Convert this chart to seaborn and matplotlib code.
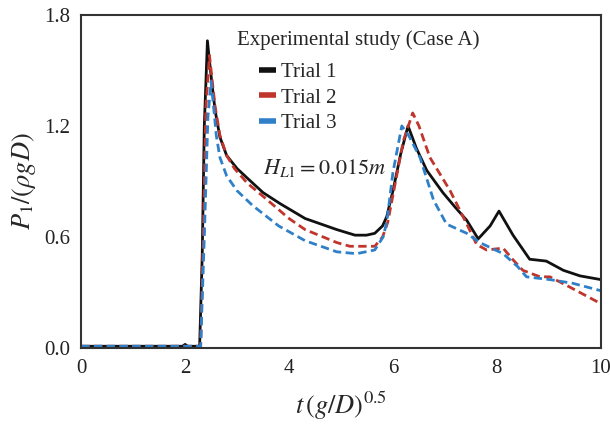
import pandas as pd
import seaborn as sns
import matplotlib.pyplot as plt
from matplotlib.lines import Line2D

# Trial 1 (solid black)
t1_x = [0, 1.0, 1.95, 2.0, 2.05, 2.28, 2.33, 2.37, 2.43, 2.47, 2.52, 2.58, 2.67, 2.8, 3.0,
        3.19, 3.5, 3.83, 4.31, 4.92, 5.27, 5.49, 5.65, 5.8, 5.88, 6.0, 6.15, 6.29, 6.45,
        6.65, 6.96, 7.2, 7.42, 7.64, 7.87, 8.04, 8.31, 8.63, 8.95, 9.28, 9.6, 10.0]
t1_y = [0.01, 0.01, 0.01, 0.02, 0.01, 0.01, 0.5, 1.2, 1.66, 1.55, 1.42, 1.28, 1.14, 1.04, 0.97,
        0.92, 0.84, 0.78, 0.7, 0.64, 0.61, 0.61, 0.62, 0.66, 0.71, 0.85, 1.05, 1.20, 1.08,
        0.96, 0.84, 0.76, 0.69, 0.59, 0.66, 0.74, 0.61, 0.48, 0.47, 0.42, 0.39, 0.37]

# Trial 2 (dashed red)
t2_x = [0, 2.3, 2.35, 2.4, 2.47, 2.52, 2.58, 2.67, 2.8, 2.95, 3.2, 3.5, 4.0, 4.31, 4.92,
        5.17, 5.65, 5.8, 5.9, 6.05, 6.2, 6.38, 6.5, 6.71, 7.1, 7.42, 7.61, 7.8, 8.12, 8.3,
        8.5, 8.83, 9.02, 9.4, 10.0]
t2_y = [0.01, 0.01, 0.6, 1.3, 1.58, 1.45, 1.3, 1.15, 1.04, 0.97, 0.89, 0.82, 0.7, 0.64, 0.57,
        0.55, 0.55, 0.6, 0.68, 0.9, 1.12, 1.27, 1.2, 1.03, 0.85, 0.67, 0.56, 0.53, 0.54, 0.48,
        0.42, 0.385, 0.385, 0.33, 0.24]

# Trial 3 (dashed blue)
t3_x = [0, 2.3, 2.37, 2.44, 2.5, 2.55, 2.6, 2.67, 2.8, 3.0, 3.3, 3.8, 4.31, 4.92, 5.3, 5.65,
        5.81, 5.88, 6.0, 6.17, 6.3, 6.52, 6.78, 7.03, 7.42, 7.67, 8.12, 8.4, 8.57, 9.02,
        9.46, 10.0]
t3_y = [0.01, 0.01, 0.6, 1.25, 1.44, 1.3, 1.15, 1.03, 0.93, 0.85, 0.77, 0.66, 0.58, 0.52,
        0.51, 0.53, 0.6, 0.68, 0.95, 1.2, 1.15, 1.03, 0.8, 0.67, 0.62, 0.57, 0.51, 0.44,
        0.385, 0.37, 0.35, 0.31]

trials = ["Trial 1", "Trial 2", "Trial 3"]
x_ticks = [0, 2, 4, 6, 8, 10]
y_ticks = [0.0, 0.6, 1.2, 1.8]

sns.set_style("white")
plt.rcParams["font.family"] = ["Liberation Serif", "DejaVu Serif"]
plt.rcParams["mathtext.fontset"] = "stix"

df = pd.concat([
    pd.DataFrame({"t": t1_x, "p": t1_y, "Trial": trials[0]}),
    pd.DataFrame({"t": t2_x, "p": t2_y, "Trial": trials[1]}),
    pd.DataFrame({"t": t3_x, "p": t3_y, "Trial": trials[2]}),
])

colors = {"Trial 1": "#111111", "Trial 2": "#c0362c", "Trial 3": "#2f80c8"}
dashes = {"Trial 1": "", "Trial 2": (3, 1.6), "Trial 3": (3, 1.6)}

fig = plt.figure(figsize=(6.1, 4.24), dpi=100)
ax = fig.add_axes([0.133, 0.179, 0.852, 0.786])

sns.lineplot(data=df, x="t", y="p", hue="Trial", style="Trial", palette=colors,
             dashes=dashes, linewidth=2, sort=False, estimator=None, legend=False, ax=ax)

ax.set_xlim(0, 10)
ax.set_ylim(0, 1.8)
ax.set_xticks(x_ticks)
ax.set_yticks(y_ticks)
ax.set_yticklabels([f"{v:.1f}" for v in y_ticks])
ax.tick_params(direction="in", length=6, width=1.2, labelsize=15, colors="#222222", pad=8)
for s in ax.spines.values():
    s.set_color("#333333")
    s.set_linewidth(1.5)

ax.set_xlabel(r"$t\,(g/D)^{0.5}$", fontsize=19, labelpad=8)
ax.set_ylabel(r"$P_1/(\rho g D)$", fontsize=19, labelpad=4)

# Legend
ax.text(0.30, 0.925, "Experimental study (Case A)", transform=ax.transAxes,
        fontsize=15, va="center", ha="left")
handles = [Line2D([0], [0], color=colors[t], lw=4, solid_capstyle="butt") for t in trials]
ax.legend(handles, trials, loc="upper left", bbox_to_anchor=(0.315, 0.9), frameon=False,
          fontsize=15, handlelength=0.8, handletextpad=0.25, labelspacing=0.28,
          borderpad=0.2)

ax.text(0.35, 0.54, r"$H_{L1}=0.015m$", transform=ax.transAxes, fontsize=16,
        va="center", ha="left")

fig.savefig("out.png", dpi=100)
